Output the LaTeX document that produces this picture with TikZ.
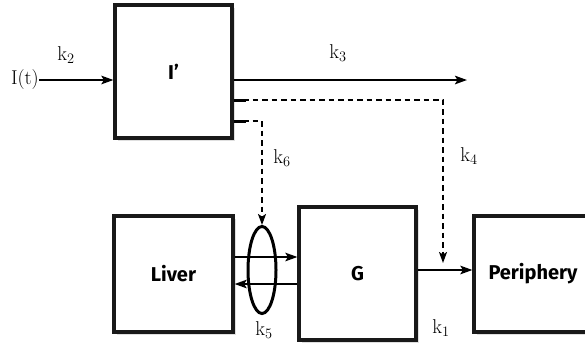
\documentclass[tikz,border=0pt]{standalone}
\usepackage{fontspec}
\newfontfamily\boxfont{Fira Sans}
\usetikzlibrary{arrows.meta,shapes.geometric,shadows}
\begin{document}
\begin{tikzpicture}[x=1pt,y=-1pt,
  blk/.style={draw=black!90,line width=3.2pt,fill=white,inner sep=0pt,
    font=\boxfont\bfseries\fontsize{20}{22}\selectfont,
    drop shadow={opacity=0.25,shadow xshift=2.5pt,shadow yshift=-2.5pt}},
  arr/.style={line width=2pt,-{Stealth[length=12pt,width=8.5pt,inset=2.5pt]}},
  dsh/.style={line width=1.6pt,dash pattern=on 5.5pt off 4pt,-{Stealth[length=11pt,width=8pt,inset=2.5pt]}},
  stub/.style={line width=3pt},
  lbl/.style={font=\fontsize{20}{22}\selectfont,inner sep=0pt}]
\useasboundingbox (0,0) rectangle (585,346);
\node[blk,minimum width=117pt,minimum height=133pt] (ib) at (173.5,71.5) {I’};
\node[blk,minimum width=119pt,minimum height=116pt] (liv) at (173.5,274) {Liver};
\node[blk,minimum width=117pt,minimum height=133pt] (g) at (357.5,273.5) {G};
\node[blk,minimum width=118pt,minimum height=116pt] (per) at (533,274) {Periphery};
\node[draw,ellipse,line width=3pt,minimum width=28pt,minimum height=87pt,inner sep=0pt] (ell) at (262,270) {};
\node[lbl,anchor=east] (it) at (39,80) {I(t)};
\coordinate (k3e) at (467,80);
\coordinate (c4) at (443,100);
\coordinate (k4e) at (443,263);
\coordinate (c6) at (262,121);
\draw[arr] (it.east) -- (it.east -| ib.west);
\draw[arr] (ib.east |- k3e) -- (k3e);
\draw[stub] (ib.east |- c4) -- ++(12,0);
\draw[stub] (ib.east |- c6) -- ++(12,0);
\draw[dsh] (ib.east |- c4) -- (c4) -- (k4e);
\draw[dsh] (ib.east |- c6) -- (c6) -- (ell.north);
\coordinate (up) at (0,257);
\coordinate (lo) at (0,284);
\coordinate (mid) at (0,270);
\draw[arr] (liv.east |- up) -- (g.west |- up);
\draw[arr] (g.west |- lo) -- (liv.east |- lo);
\draw[arr] (g.east |- mid) -- (per.west |- mid);
\node[lbl] (k2) at (66,55) {k$_2$};
\node[lbl] (k3) at (338,53) {k$_3$};
\node[lbl] (k6) at (282,158) {k$_6$};
\node[lbl] (k4) at (469,156) {k$_4$};
\node[lbl] (k5) at (264,330) {k$_5$};
\node[lbl] (k1) at (441,328) {k$_1$};
\end{tikzpicture}
\end{document}
